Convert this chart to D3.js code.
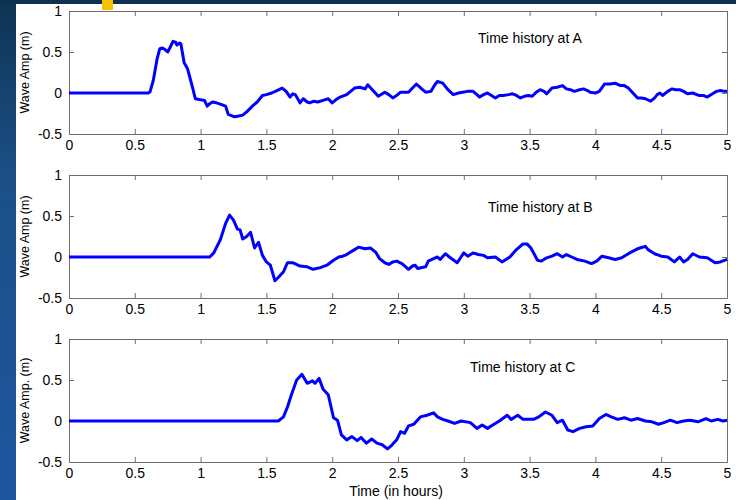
<!DOCTYPE html>
<html>
<head>
<meta charset="utf-8">
<script src="https://cdn.jsdelivr.net/npm/d3@7"></script>
<style>
  html, body { margin: 0; padding: 0; background: #fff; }
  svg { display: block; }
  text { font-family: "Liberation Sans", Arial, sans-serif; }
</style>
</head>
<body>
<svg id="chart" width="736" height="500"></svg>
<script>
// Wave amplitude time histories (time in hours, amplitude in metres)
const seriesA = [
  [0,0],[0.6,0],[0.615,0.01],[0.64,0.15],[0.67,0.42],[0.69,0.54],[0.71,0.55],[0.73,0.53],[0.75,0.50],
  [0.77,0.56],[0.79,0.63],[0.81,0.62],[0.82,0.585],[0.84,0.61],[0.85,0.60],[0.875,0.37],[0.9,0.30],
  [0.92,0.18],[0.94,0.06],[0.96,-0.07],[0.99,-0.08],[1.01,-0.085],[1.03,-0.09],[1.05,-0.16],[1.07,-0.13],
  [1.09,-0.11],[1.12,-0.12],[1.15,-0.135],[1.19,-0.16],[1.21,-0.26],[1.24,-0.28],[1.26,-0.29],[1.29,-0.28],
  [1.32,-0.27],[1.35,-0.23],[1.375,-0.19],[1.40,-0.15],[1.43,-0.11],[1.47,-0.03],[1.50,-0.02],[1.54,0.0],
  [1.58,0.03],[1.62,0.06],[1.65,0.02],[1.68,-0.05],[1.70,-0.01],[1.72,-0.02],[1.755,-0.12],[1.78,-0.07],
  [1.81,-0.11],[1.83,-0.12],[1.86,-0.10],[1.89,-0.11],[1.93,-0.09],[1.97,-0.07],[2.0,-0.12],[2.03,-0.08],
  [2.06,-0.05],[2.11,-0.02],[2.14,0.02],[2.17,0.06],[2.21,0.07],[2.25,0.05],[2.27,0.10],[2.31,0.03],
  [2.35,-0.04],[2.40,0.01],[2.43,-0.02],[2.46,-0.06],[2.49,-0.03],[2.52,0.01],[2.58,0.01],[2.61,0.06],
  [2.64,0.11],[2.68,0.05],[2.71,0.01],[2.75,0.02],[2.78,0.10],[2.80,0.14],[2.84,0.12],[2.88,0.04],
  [2.92,-0.02],[2.96,0.0],[2.99,0.01],[3.03,0.02],[3.07,0.02],[3.10,-0.02],[3.12,-0.05],[3.15,-0.02],
  [3.18,0.0],[3.21,-0.03],[3.24,-0.06],[3.27,-0.03],[3.30,-0.03],[3.34,-0.02],[3.37,-0.01],[3.40,-0.03],
  [3.43,-0.06],[3.46,-0.04],[3.49,-0.03],[3.52,-0.04],[3.55,0.01],[3.58,0.04],[3.61,0.02],[3.63,-0.01],
  [3.67,0.06],[3.71,0.07],[3.75,0.09],[3.78,0.05],[3.81,0.04],[3.84,0.02],[3.88,0.04],[3.91,0.05],
  [3.94,0.03],[3.96,0.01],[4.0,0.0],[4.03,0.02],[4.07,0.11],[4.11,0.11],[4.15,0.12],[4.19,0.09],
  [4.22,0.09],[4.25,0.06],[4.28,0.01],[4.32,-0.06],[4.35,-0.06],[4.38,-0.07],[4.42,-0.10],[4.45,-0.06],
  [4.47,-0.02],[4.49,0.0],[4.51,-0.03],[4.55,0.02],[4.58,0.05],[4.61,0.04],[4.64,0.04],[4.67,0.02],
  [4.70,-0.01],[4.74,0.0],[4.77,-0.02],[4.79,-0.03],[4.82,-0.03],[4.85,-0.05],[4.89,-0.01],[4.92,0.02],
  [4.95,0.03],[4.98,0.02],[5.0,0.02]
];
const seriesB = [
  [0,0],[1.07,0],[1.10,0.05],[1.15,0.21],[1.19,0.41],[1.22,0.51],[1.25,0.45],[1.28,0.34],[1.30,0.33],
  [1.32,0.22],[1.35,0.25],[1.38,0.30],[1.41,0.11],[1.44,0.18],[1.47,0.02],[1.50,-0.06],[1.53,-0.10],
  [1.565,-0.29],[1.59,-0.25],[1.63,-0.18],[1.66,-0.07],[1.70,-0.07],[1.755,-0.11],[1.81,-0.12],[1.855,-0.15],
  [1.91,-0.13],[1.96,-0.10],[2.01,-0.04],[2.05,0.0],[2.08,0.01],[2.11,0.03],[2.14,0.06],[2.17,0.09],
  [2.20,0.12],[2.25,0.10],[2.29,0.11],[2.33,0.06],[2.36,-0.02],[2.40,-0.07],[2.43,-0.09],[2.46,-0.06],
  [2.49,-0.05],[2.53,-0.08],[2.58,-0.15],[2.61,-0.11],[2.63,-0.10],[2.65,-0.14],[2.71,-0.12],[2.73,-0.05],
  [2.77,-0.02],[2.80,0.0],[2.82,-0.03],[2.86,0.04],[2.89,0.0],[2.95,-0.07],[3.0,0.05],[3.03,0.01],
  [3.07,0.05],[3.11,0.03],[3.15,0.02],[3.18,-0.01],[3.24,0.0],[3.29,-0.06],[3.35,0.0],[3.40,0.09],
  [3.45,0.16],[3.48,0.16],[3.51,0.11],[3.56,-0.04],[3.59,-0.05],[3.63,-0.01],[3.67,0.01],[3.71,0.04],
  [3.75,0.0],[3.78,0.03],[3.82,0.0],[3.86,-0.03],[3.92,-0.05],[3.97,-0.08],[4.01,-0.05],[4.05,0.01],
  [4.10,-0.01],[4.15,-0.03],[4.20,-0.01],[4.26,0.05],[4.32,0.10],[4.38,0.13],[4.40,0.09],[4.45,0.04],
  [4.50,0.01],[4.55,0.0],[4.60,-0.06],[4.64,0.0],[4.67,-0.06],[4.70,-0.03],[4.74,0.04],[4.79,0.0],
  [4.85,-0.01],[4.91,-0.07],[4.95,-0.06],[5.0,-0.03]
];
const seriesC = [
  [0,0],[1.59,0],[1.63,0.05],[1.66,0.17],[1.69,0.32],[1.73,0.50],[1.77,0.57],[1.81,0.46],[1.85,0.49],
  [1.87,0.46],[1.90,0.52],[1.93,0.39],[1.97,0.32],[2.01,0.04],[2.04,0.01],[2.07,-0.17],[2.11,-0.23],
  [2.15,-0.19],[2.19,-0.24],[2.22,-0.20],[2.26,-0.27],[2.30,-0.22],[2.34,-0.27],[2.38,-0.29],[2.42,-0.34],
  [2.45,-0.30],[2.49,-0.23],[2.52,-0.13],[2.55,-0.15],[2.58,-0.06],[2.62,-0.04],[2.67,0.05],[2.72,0.07],
  [2.77,0.10],[2.80,0.05],[2.84,0.02],[2.88,0.0],[2.93,-0.03],[2.98,0.0],[3.05,-0.02],[3.10,-0.09],
  [3.14,-0.05],[3.18,-0.09],[3.22,-0.05],[3.27,0.0],[3.33,0.07],[3.36,0.02],[3.41,0.07],[3.45,0.02],
  [3.53,0.02],[3.57,0.05],[3.62,0.11],[3.67,0.07],[3.71,-0.02],[3.75,0.01],[3.79,-0.11],[3.83,-0.13],
  [3.88,-0.09],[3.93,-0.07],[3.98,-0.06],[4.03,0.03],[4.08,0.08],[4.12,0.05],[4.17,0.02],[4.22,0.04],
  [4.27,0.01],[4.32,0.03],[4.38,0.0],[4.43,-0.01],[4.48,-0.04],[4.52,-0.02],[4.57,0.01],[4.62,-0.02],
  [4.67,0.0],[4.72,0.01],[4.78,-0.01],[4.84,0.03],[4.88,0.0],[4.93,0.02],[4.97,0.0],[5.0,0.01]
];

const xTicks = [0, 0.5, 1, 1.5, 2, 2.5, 3, 3.5, 4, 4.5, 5];
const yTicks = [-0.5, 0, 0.5, 1];

const panels = [
  { data: seriesA, title: "Time history at A", ylabel: "Wave Amp (m)",  top: 11,  titleX: 478, titleY: 43 },
  { data: seriesB, title: "Time history at B", ylabel: "Wave Amp (m)",  top: 175, titleX: 488, titleY: 212 },
  { data: seriesC, title: "Time history at C", ylabel: "Wave Amp. (m)", top: 339, titleX: 470, titleY: 372 }
];

const svg = d3.select("#chart");
const W = 736, H = 500;
const left = 69, right = 727, plotH = 123;

// slide backdrop: dark strip along the top and a blue band on the left
const defs = svg.append("defs");
const grad = defs.append("linearGradient").attr("id", "bandGrad")
  .attr("x1", 0).attr("y1", 0).attr("x2", 0).attr("y2", 1);
grad.append("stop").attr("offset", "0%").attr("stop-color", "#0f3454");
grad.append("stop").attr("offset", "35%").attr("stop-color", "#1b4f86");
grad.append("stop").attr("offset", "100%").attr("stop-color", "#1f56a0");
svg.append("rect").attr("x", 0).attr("y", 0).attr("width", W).attr("height", H).attr("fill", "#fff");
svg.append("rect").attr("x", 0).attr("y", 0).attr("width", 16).attr("height", H).attr("fill", "url(#bandGrad)");
svg.append("rect").attr("x", 0).attr("y", 0).attr("width", W).attr("height", 4).attr("fill", "#0f3050");
svg.append("rect").attr("x", 102).attr("y", 0).attr("width", 11).attr("height", 10).attr("fill", "#f5c400");

const x = d3.scaleLinear().domain([0, 5]).range([left, right]);
const fmt = d => String(d);

panels.forEach(p => {
  const y = d3.scaleLinear().domain([-0.5, 1]).range([p.top + plotH, p.top]);
  const g = svg.append("g");

  // inward ticks on all four sides
  const axes = [
    { ax: d3.axisBottom(x).tickValues(xTicks).tickFormat(fmt), tr: `translate(0,${p.top + plotH})` },
    { ax: d3.axisTop(x).tickValues(xTicks).tickFormat(""), tr: `translate(0,${p.top})` },
    { ax: d3.axisLeft(y).tickValues(yTicks).tickFormat(fmt), tr: `translate(${left},0)` },
    { ax: d3.axisRight(y).tickValues(yTicks).tickFormat(""), tr: `translate(${right},0)` }
  ];
  axes.forEach((a, i) => {
    const ag = g.append("g").attr("transform", a.tr)
      .call(a.ax.tickSizeInner(-5).tickSizeOuter(0).tickPadding(i === 0 ? 6 : 7));
    ag.select(".domain").attr("stroke", "#6e6e6e").attr("stroke-width", 1);
    ag.selectAll(".tick line").attr("stroke", "#6e6e6e");
    ag.selectAll(".tick text").attr("fill", "#000").attr("font-size", 14)
      .attr("font-family", "'Liberation Sans', Arial, sans-serif");
  });

  const line = d3.line().x(d => x(d[0])).y(d => y(d[1]));
  g.append("path").datum(p.data)
    .attr("d", line)
    .attr("fill", "none")
    .attr("stroke", "#0000ff")
    .attr("stroke-width", 3)
    .attr("stroke-linejoin", "round");

  g.append("text").attr("x", p.titleX).attr("y", p.titleY)
    .attr("font-size", 14).attr("fill", "#000").text(p.title);

  g.append("text")
    .attr("transform", `translate(29,${p.top + plotH / 2}) rotate(-90)`)
    .attr("text-anchor", "middle").attr("font-size", 12.5).attr("fill", "#000")
    .text(p.ylabel);
});

svg.append("text").attr("x", 396).attr("y", 496)
  .attr("text-anchor", "middle").attr("font-size", 14).attr("fill", "#000")
  .text("Time (in hours)");
</script>
</body>
</html>
